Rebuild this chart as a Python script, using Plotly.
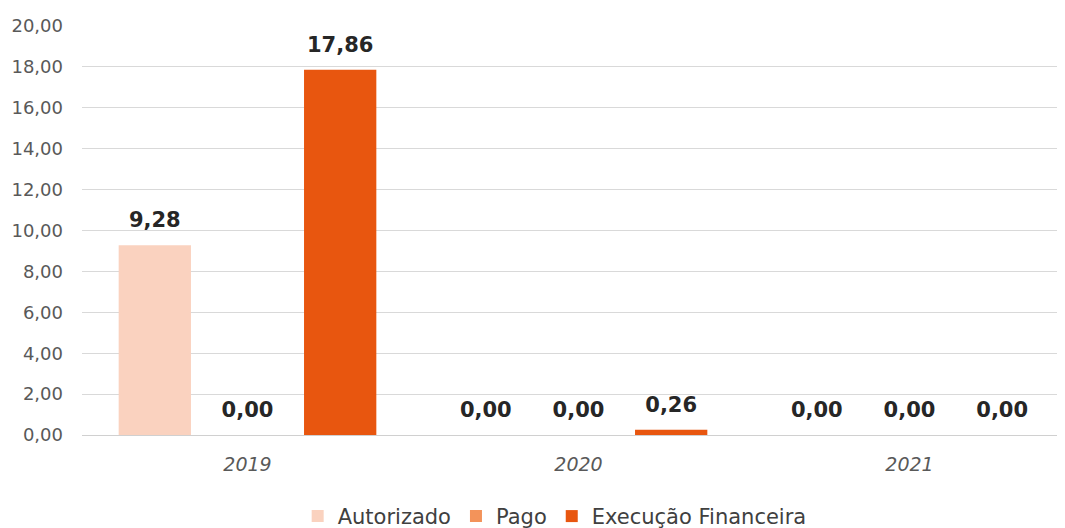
import plotly.graph_objects as go

categories = ["2019", "2020", "2021"]
autorizado = [9.28, 0.00, 0.00]
pago = [0.00, 0.00, 0.00]
execucao = [17.86, 0.26, 0.00]
y_ticks = [0, 2, 4, 6, 8, 10, 12, 14, 16, 18, 20]

FONT = "DejaVu Sans"
series = [
    ("Autorizado", autorizado, "#FAD2BF"),
    ("Pago", pago, "#F3935A"),
    ("Execução Financeira", execucao, "#E8560F"),
]

fig = go.Figure()
for name, vals, color in series:
    fig.add_trace(go.Bar(
        x=categories, y=vals, name=name,
        marker=dict(color=color, line=dict(width=0)),
        texttemplate="<span style='font-size:21px'><b>%{y:.2f}</b></span><br> ",
        textposition="outside",
        textfont=dict(family=FONT, size=10, color="#262626"),
        cliponaxis=False,
    ))

fig.update_layout(
    width=1067, height=520,
    separators=",.",
    barmode="group",
    bargap=0.16, bargroupgap=0.22,
    plot_bgcolor="white", paper_bgcolor="white",
    margin=dict(l=74, r=0, t=18, b=93, autoexpand=False),
    font=dict(family=FONT, color="#595959"),
    showlegend=True,
    legend=dict(orientation="h", x=0.476, xanchor="center", y=-0.149, yanchor="top",
                font=dict(family=FONT, size=21, color="#404040"),
                traceorder="normal"),
    xaxis=dict(tickfont=dict(family=FONT, size=19, color="#595959", style="italic"),
               showline=False, ticks="", showgrid=False, automargin=False,
               ticklabelstandoff=16),
    yaxis=dict(range=[0, 20], tickvals=y_ticks, tickformat=".2f",
               tickfont=dict(family=FONT, size=18, color="#595959"),
               gridcolor="#D9D9D9", gridwidth=1.3, zeroline=True,
               zerolinecolor="#D0D0D0", zerolinewidth=1.3,
               ticklabelstandoff=18, showline=False, automargin=False),
)

fig.write_html("out.html")
